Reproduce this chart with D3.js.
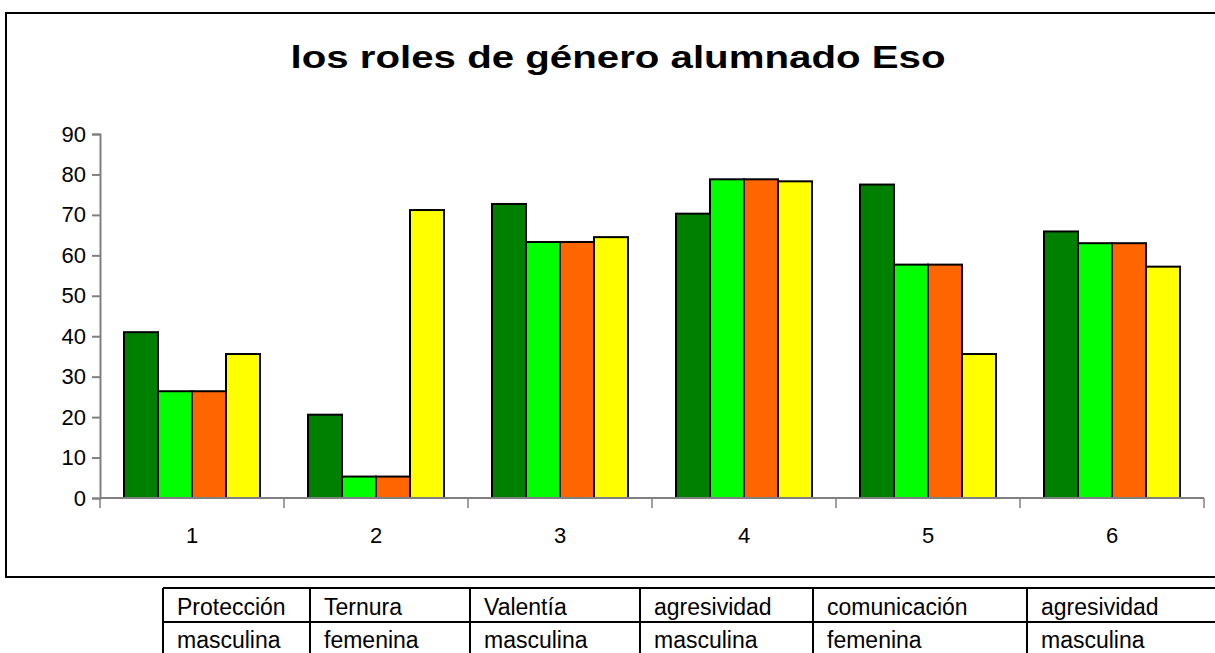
<!DOCTYPE html>
<html lang="es">
  <head>
    <meta charset="utf-8">
    <title>los roles de género alumnado Eso</title>
    <script src="https://d3js.org/d3.v7.min.js"></script>
    <style>
      body { margin: 0; background: white; }
      svg { display: block; background: white; font-family: "Liberation Sans", Arial, sans-serif; }
    </style>
  </head>
  <body>
    <script>
      // data
      var categories = ["1", "2", "3", "4", "5", "6"];
      var serie1 = [41, 20.6, 72.7, 70.3, 77.5, 65.9];   // verde oscuro
      var serie2 = [26.4, 5.3, 63.3, 78.8, 57.7, 63];    // verde
      var serie3 = [26.4, 5.3, 63.3, 78.8, 57.7, 63];    // naranja
      var serie4 = [35.6, 71.2, 64.5, 78.3, 35.6, 57.2]; // amarillo
      var yTicks = [0, 10, 20, 30, 40, 50, 60, 70, 80, 90];
      var rolesTop = ["Protección", "Ternura", "Valentía", "agresividad", "comunicación", "agresividad"];
      var rolesBottom = ["masculina", "femenina", "masculina", "masculina", "femenina", "masculina"];

      var colors = ["#008000", "#00ff00", "#ff6600", "#ffff00"];
      var series = [serie1, serie2, serie3, serie4];

      var w = 1215, h = 653;
      var svg = d3.select("body").append("svg").attr("width", w).attr("height", h);

      // chart frame
      svg.append("rect")
        .attr("x", 6).attr("y", 13)
        .attr("width", 1230).attr("height", 564)
        .attr("fill", "none").attr("stroke", "black").attr("stroke-width", 2);

      svg.append("text")
        .attr("x", 618).attr("y", 68)
        .attr("text-anchor", "middle")
        .attr("font-size", 32).attr("font-weight", "bold")
        .attr("textLength", 655).attr("lengthAdjust", "spacingAndGlyphs")
        .text("los roles de género alumnado Eso");

      var plotLeft = 100, plotRight = 1204, plotTop = 134, plotBottom = 498;

      var x = d3.scaleBand().domain(categories).range([plotLeft, plotRight]);
      var inner = d3.scaleBand().domain(d3.range(4)).range([24, x.bandwidth() - 24]);
      var y = d3.scaleLinear().domain([0, 90]).range([plotBottom, plotTop]);

      // bars
      var groups = svg.append("g").selectAll("g")
        .data(categories)
        .enter().append("g")
        .attr("transform", function(d) { return "translate(" + x(d) + ",0)"; });

      groups.selectAll("rect")
        .data(function(d, i) { return series.map(function(s, k) { return { k: k, v: s[i] }; }); })
        .enter().append("rect")
        .attr("x", function(d) { return inner(d.k); })
        .attr("width", inner.bandwidth())
        .attr("y", function(d) { return y(d.v); })
        .attr("height", function(d) { return y(0) - y(d.v); })
        .attr("fill", function(d) { return colors[d.k]; })
        .attr("stroke", "black").attr("stroke-width", 2);

      // y axis
      var yAxis = svg.append("g")
        .attr("transform", "translate(" + plotLeft + ",0)")
        .call(d3.axisLeft(y).tickValues(yTicks).tickSize(8).tickPadding(6));
      yAxis.selectAll("text")
        .attr("font-size", 22).attr("fill", "black")
        .attr("font-family", "Liberation Sans, Arial, sans-serif");

      // x axis (ticks between categories)
      var xAxis = svg.append("g").attr("transform", "translate(0," + plotBottom + ")");
      xAxis.append("line").attr("x1", plotLeft).attr("x2", plotRight).attr("stroke", "#808080").attr("stroke-width", 2);
      xAxis.selectAll("line.tick")
        .data(categories.concat(["end"]))
        .enter().append("line").attr("class", "tick")
        .attr("x1", function(d, i) { return plotLeft + i * x.step(); })
        .attr("x2", function(d, i) { return plotLeft + i * x.step(); })
        .attr("y1", 0).attr("y2", 10)
        .attr("stroke", "#808080").attr("stroke-width", 1.5);
      xAxis.selectAll("text")
        .data(categories)
        .enter().append("text")
        .attr("x", function(d) { return x(d) + x.bandwidth() / 2; })
        .attr("y", 45)
        .attr("text-anchor", "middle")
        .attr("font-size", 22)
        .text(function(d) { return d; });

      svg.selectAll(".domain").attr("stroke", "#808080").attr("stroke-width", 2);
      svg.selectAll(".tick line").attr("stroke", "#808080").attr("stroke-width", 2);

      // table under the chart
      var colEdges = [163, 310, 470, 640, 813, 1027, 1240];
      var table = svg.append("g");
      [588, 622].forEach(function(ly) {
        table.append("line").attr("x1", 163).attr("x2", 1240).attr("y1", ly).attr("y2", ly)
          .attr("stroke", "black").attr("stroke-width", 2);
      });
      table.selectAll("line.col")
        .data(colEdges)
        .enter().append("line").attr("class", "col")
        .attr("x1", function(d) { return d; }).attr("x2", function(d) { return d; })
        .attr("y1", 588).attr("y2", 660)
        .attr("stroke", "black").attr("stroke-width", 2);
      table.selectAll("text.top")
        .data(rolesTop)
        .enter().append("text").attr("class", "top")
        .attr("x", function(d, i) { return colEdges[i] + 14; })
        .attr("y", 615)
        .attr("font-size", 23)
        .text(function(d) { return d; });
      table.selectAll("text.bottom")
        .data(rolesBottom)
        .enter().append("text").attr("class", "bottom")
        .attr("x", function(d, i) { return colEdges[i] + 14; })
        .attr("y", 648)
        .attr("font-size", 23)
        .text(function(d) { return d; });
    </script>
  </body>
</html>
